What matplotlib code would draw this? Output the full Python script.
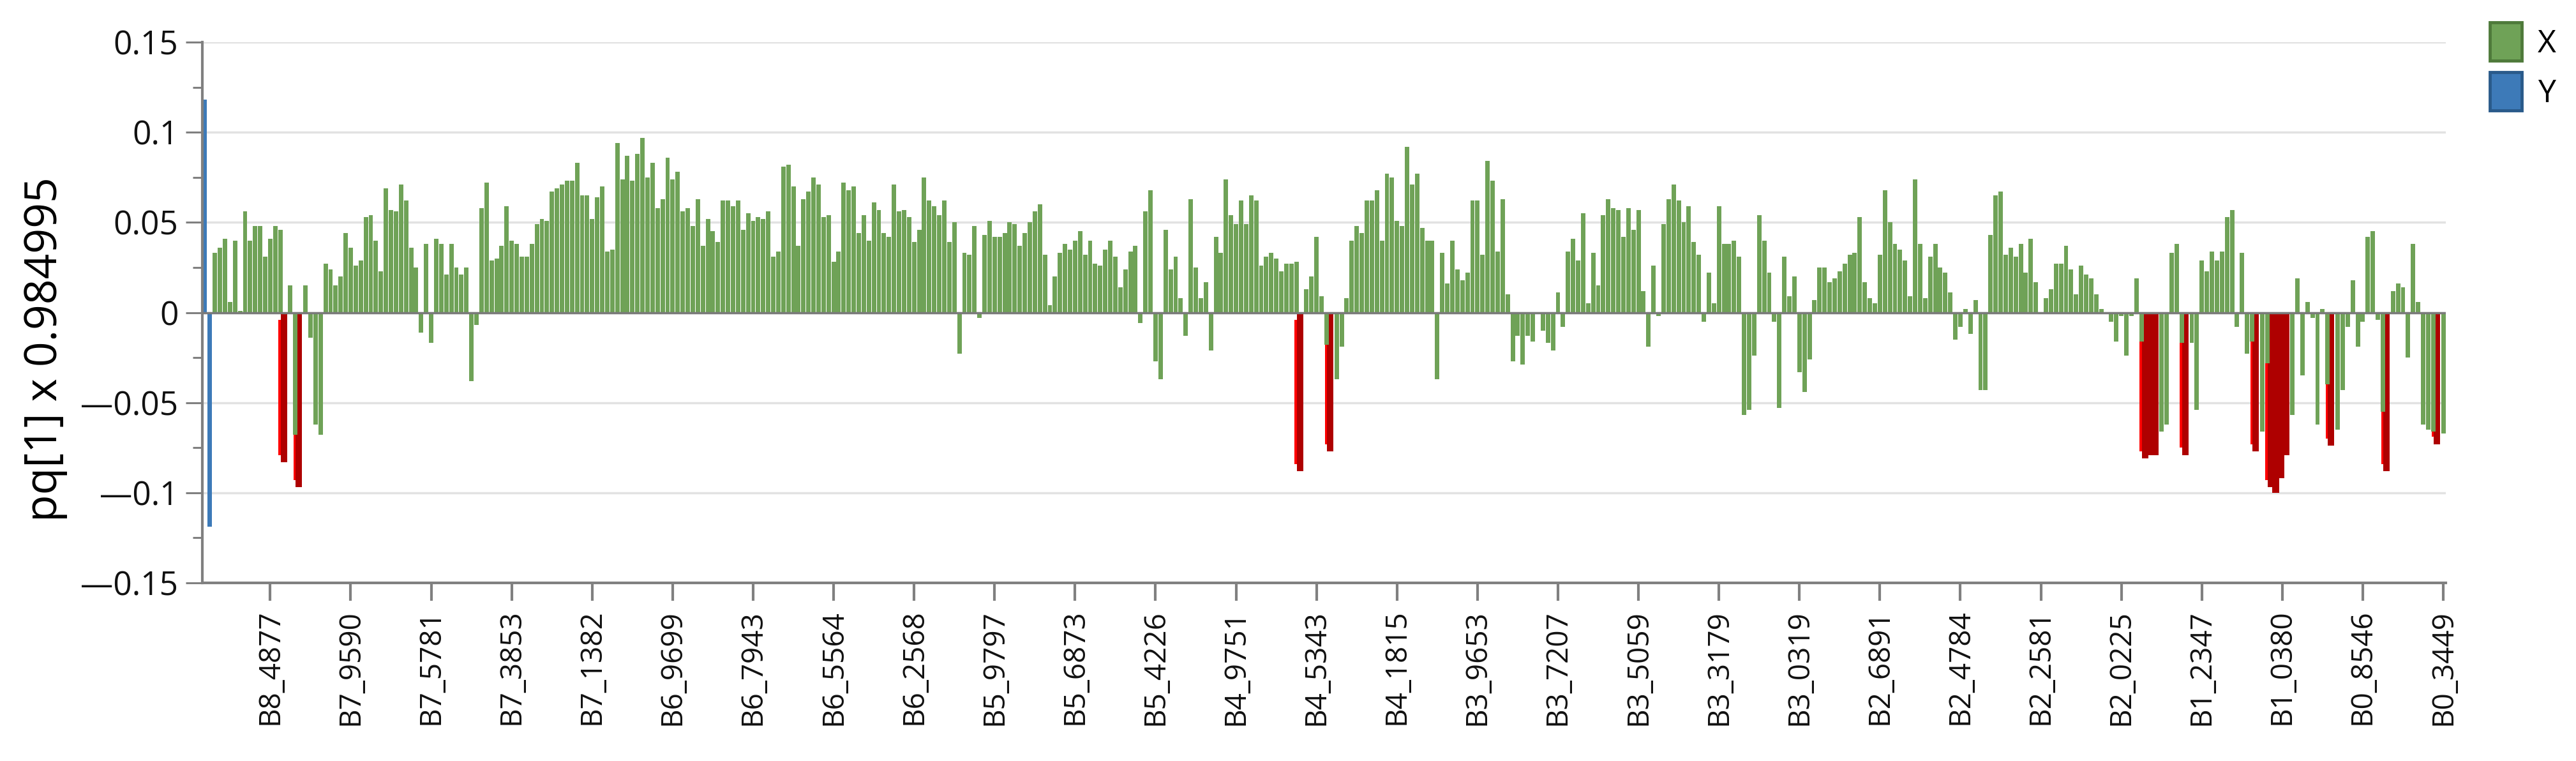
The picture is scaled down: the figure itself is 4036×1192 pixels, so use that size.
import numpy as np
import matplotlib.pyplot as plt
from matplotlib.patches import Patch
from matplotlib.ticker import FixedLocator, FuncFormatter

plt.rcParams['font.family'] = ['Open Sans', 'DejaVu Sans']

# --- data ---
y_values = [0.118, -0.119]          # Y block, drawn first

x_values = [
    0.033, 0.036, 0.041, 0.006, 0.040, 0.001, 0.056, 0.040, 0.048, 0.048, 0.031, 0.041, 0.048, 0.046,
    -0.083, 0.015, -0.068, -0.097, 0.015, -0.014, -0.062, -0.068, 0.027, 0.024, 0.015, 0.020, 0.044, 0.036, 0.026, 0.029,
    0.053, 0.054, 0.040, 0.023, 0.069, 0.057, 0.056, 0.071, 0.062, 0.036, 0.025, -0.011, 0.038, -0.017, 0.041, 0.038,
    0.021, 0.038, 0.025, 0.021, 0.025, -0.038, -0.007, 0.058, 0.072, 0.029, 0.030, 0.037, 0.059, 0.040, 0.038, 0.031,
    0.031, 0.038, 0.049, 0.052, 0.051, 0.067, 0.069, 0.071, 0.073, 0.073, 0.083, 0.065, 0.065, 0.052, 0.064, 0.070,
    0.034, 0.035, 0.094, 0.074, 0.087, 0.073, 0.088, 0.097, 0.075, 0.083, 0.058, 0.063, 0.086, 0.074, 0.078, 0.056,
    0.058, 0.048, 0.063, 0.037, 0.052, 0.045, 0.039, 0.062, 0.062, 0.059, 0.062, 0.046, 0.055, 0.051, 0.053, 0.052,
    0.056, 0.031, 0.034, 0.081, 0.082, 0.070, 0.037, 0.063, 0.067, 0.075, 0.071, 0.053, 0.054, 0.028, 0.034, 0.072,
    0.068, 0.070, 0.044, 0.054, 0.040, 0.061, 0.057, 0.044, 0.042, 0.071, 0.056, 0.057, 0.053, 0.039, 0.046, 0.075,
    0.062, 0.059, 0.054, 0.062, 0.039, 0.050, -0.023, 0.033, 0.032, 0.048, -0.003, 0.043, 0.051, 0.042, 0.042, 0.044,
    0.050, 0.049, 0.037, 0.044, 0.050, 0.056, 0.060, 0.032, 0.004, 0.020, 0.033, 0.038, 0.035, 0.040, 0.045, 0.032,
    0.040, 0.027, 0.026, 0.035, 0.040, 0.031, 0.014, 0.024, 0.034, 0.037, -0.006, 0.056, 0.068, -0.027, -0.037, 0.046,
    0.024, 0.031, 0.008, -0.013, 0.063, 0.025, 0.008, 0.017, -0.021, 0.042, 0.033, 0.074, 0.054, 0.049, 0.062, 0.049,
    0.065, 0.062, 0.026, 0.031, 0.033, 0.030, 0.023, 0.027, 0.027, 0.028, -0.088, 0.013, 0.020, 0.042, 0.009, -0.018,
    -0.077, -0.037, -0.019, 0.008, 0.040, 0.048, 0.044, 0.062, 0.062, 0.068, 0.040, 0.077, 0.075, 0.051, 0.048, 0.092,
    0.071, 0.077, 0.047, 0.040, 0.040, -0.037, 0.033, 0.016, 0.040, 0.024, 0.018, 0.022, 0.062, 0.062, 0.032, 0.084,
    0.073, 0.034, 0.063, 0.010, -0.027, -0.013, -0.029, -0.013, -0.016, -0.001, -0.010, -0.017, -0.021, 0.011, -0.008, 0.034,
    0.041, 0.029, 0.055, 0.005, 0.033, 0.015, 0.054, 0.063, 0.058, 0.057, 0.042, 0.058, 0.046, 0.057, 0.012, -0.019,
    0.026, -0.002, 0.049, 0.063, 0.071, 0.062, 0.050, 0.059, 0.039, 0.032, -0.005, 0.022, 0.005, 0.059, 0.038, 0.038,
    0.040, 0.031, -0.057, -0.054, -0.024, 0.054, 0.040, 0.022, -0.005, -0.053, 0.031, 0.009, 0.020, -0.033, -0.044, -0.026,
    0.007, 0.025, 0.025, 0.017, 0.019, 0.023, 0.027, 0.032, 0.033, 0.053, 0.017, 0.008, 0.005, 0.032, 0.068, 0.050,
    0.038, 0.035, 0.029, 0.009, 0.074, 0.038, 0.008, 0.031, 0.038, 0.025, 0.022, 0.011, -0.015, -0.008, 0.002, -0.012,
    0.007, -0.043, -0.043, 0.043, 0.065, 0.067, 0.032, 0.036, 0.031, 0.038, 0.022, 0.041, 0.017, 0.000, 0.008, 0.013,
    0.027, 0.027, 0.037, 0.024, 0.010, 0.026, 0.021, 0.019, 0.010, 0.002, 0.000, -0.005, -0.016, -0.002, -0.024, -0.002,
    0.019, -0.016, -0.081, -0.079, -0.079, -0.066, -0.062, 0.033, 0.038, -0.017, -0.079, -0.017, -0.054, 0.029, 0.023, 0.034,
    0.029, 0.034, 0.053, 0.057, -0.008, 0.033, -0.023, -0.016, -0.077, -0.066, -0.028, -0.097, -0.100, -0.092, -0.079, -0.057,
    0.019, -0.035, 0.006, -0.003, -0.062, 0.002, -0.040, -0.074, -0.065, -0.043, -0.008, 0.018, -0.019, -0.005, 0.042, 0.045,
    -0.004, -0.055, -0.088, 0.012, 0.016, 0.014, -0.025, 0.038, 0.006, -0.062, -0.065, -0.066, -0.073, -0.067,
]

tick_labels = ['B8_4877', 'B7_9590', 'B7_5781', 'B7_3853', 'B7_1382', 'B6_9699', 'B6_7943',
               'B6_5564', 'B6_2568', 'B5_9797', 'B5_6873', 'B5_4226', 'B4_9751', 'B4_5343',
               'B4_1815', 'B3_9653', 'B3_7207', 'B3_5059', 'B3_3179', 'B3_0319', 'B2_6891',
               'B2_4784', 'B2_2581', 'B2_0225', 'B1_2347', 'B1_0380', 'B0_8546', 'B0_3449']
first_tick = 13      # every 16th variable gets a label
tick_step = 16
highlight_below = -0.07   # X bars under this are shown in red

# --- colours ---
GREEN = '#6fa257'
BLUE = '#3d7ab8'
DARK_RED = '#ae0000'
BRIGHT_RED = '#ff0000'
AXIS_GREY = '#808080'

n_y = len(y_values)
y_pos = np.arange(n_y)
x_pos = np.arange(len(x_values)) + n_y
x_arr = np.array(x_values)
hot = x_arr < highlight_below

fig = plt.figure(figsize=(40.37, 11.92), dpi=100)
ax = fig.add_axes([317 / 4037, 1 - 913 / 1192, (3832 - 317) / 4037, (913 - 66) / 1192])

ax.bar(y_pos, y_values, width=0.9, color=BLUE, zorder=2)
ax.bar(x_pos[~hot], x_arr[~hot], width=0.88, color=GREEN, zorder=2)
# highlighted bars: bright strip on the left, dark body, both sitting behind the green ones
ax.bar(x_pos[hot] - 1.15, x_arr[hot] + 0.008, bottom=-0.004, width=0.4,
       color=BRIGHT_RED, zorder=1.2)
ax.bar(x_pos[hot] - 0.3, x_arr[hot], width=1.3, color=DARK_RED, zorder=1.5)

ax.axhline(0, color='#7a7a7a', lw=2.5, zorder=3)

ax.set_xlim(-0.5, n_y + len(x_values) - 0.5)
ax.set_ylim(-0.15, 0.15)


def fmt(v, _):
    if abs(v) < 1e-9:
        return '0'
    s = ('%.2f' % abs(v)).rstrip('0')
    return ('\u2014' if v < 0 else '') + s


ax.yaxis.set_major_locator(FixedLocator(np.linspace(-0.15, 0.15, 7)))
ax.yaxis.set_minor_locator(FixedLocator(np.arange(-0.125, 0.15, 0.05)))
ax.yaxis.set_major_formatter(FuncFormatter(fmt))
ax.tick_params(axis='y', which='major', length=19, width=2.2, color=AXIS_GREY,
               labelsize=37, pad=8, labelcolor='#111111')
ax.tick_params(axis='y', which='minor', length=11, width=2.2, color=AXIS_GREY)

ax.set_xticks(first_tick + tick_step * np.arange(len(tick_labels)))
ax.set_xticklabels(tick_labels, rotation=90, fontsize=33, color='#111111')
ax.tick_params(axis='x', length=20, width=3, color=AXIS_GREY, pad=10)

ax.grid(axis='y', which='major', color='#e2e2e2', lw=2.5)
ax.set_axisbelow(True)

for side in ['top', 'right']:
    ax.spines[side].set_visible(False)
for side in ['left', 'bottom']:
    ax.spines[side].set_color(AXIS_GREY)
    ax.spines[side].set_linewidth(3)

ax.set_ylabel('pq[1] x 0.984995', fontsize=50)
ax.yaxis.set_label_coords(-0.06, 0.432)

handles = [Patch(facecolor=GREEN, edgecolor='#4e7a3a', lw=3.5, label='X'),
           Patch(facecolor=BLUE, edgecolor='#2a5a8a', lw=3.5, label='Y')]
ax.legend(handles=handles, loc='upper left', bbox_to_anchor=(3901 / 4037, 1 - 35 / 1192),
          bbox_transform=fig.transFigure, frameon=False, borderpad=0, borderaxespad=0,
          handlelength=1.0, handleheight=1.48, handletextpad=0.5, labelspacing=0.35,
          fontsize=36)

fig.savefig('out.png', dpi=100)
